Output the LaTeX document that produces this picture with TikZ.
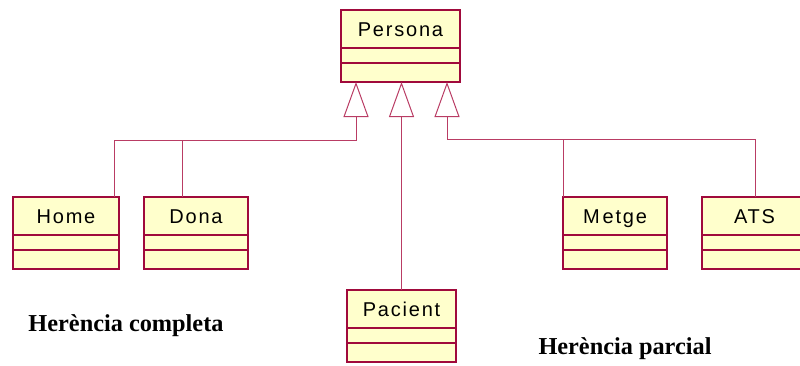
\documentclass[tikz,border=0pt]{standalone}
\usepackage{fontspec}
\setmainfont{Liberation Serif}
\newfontfamily\umlfont{Liberation Sans}[LetterSpace=9]
\usetikzlibrary{arrows.meta,positioning,calc}
\definecolor{umlborder}{RGB}{160,10,60}
\definecolor{umlline}{RGB}{185,60,100}
\definecolor{umlfill}{RGB}{255,255,204}

% one class: title part, attributes, operations
\newcommand{\umlclass}[5]{%
    \node[classtitle, minimum width=#4, anchor=north west] (#1) at (#2,#3) {#5};
    \node[classpart, minimum width=#4, minimum height=15pt, below=0pt of #1] (#1-a) {};
    \node[classpart, minimum width=#4, minimum height=19pt, below=0pt of #1-a] (#1-o) {};
}

\begin{document}
\begin{tikzpicture}[x=1pt, y=-1pt,
    classtitle/.style={draw=umlborder, fill=umlfill, line width=1.3pt, outer sep=0pt,
        minimum height=38pt, inner sep=0pt, text height=15.5pt, text depth=0.5pt,
        font=\umlfont\fontsize{20}{24}\selectfont},
    classpart/.style={draw=umlborder, fill=umlfill, line width=1.3pt, outer sep=0pt,
        inner sep=0pt},
    gen/.style={draw=umlline, line width=1pt,
        -{Triangle[open, length=35pt, width=25pt]}},
    link/.style={draw=umlline, line width=1pt},
    caption/.style={font=\bfseries\fontsize{24.3}{28}\selectfont}]
    \useasboundingbox (0,0) rectangle (800,365);

    % Classes
    \umlclass{persona}{341}{10}{119pt}{Persona}
    \umlclass{home}{13}{197}{106pt}{Home}
    \umlclass{dona}{144}{197}{104pt}{Dona}
    \umlclass{pacient}{347}{290}{109pt}{Pacient}
    \umlclass{metge}{563}{197}{104pt}{M\kern3pt etge}
    \umlclass{ats}{702}{197}{105pt}{ATS}

    % Arrow ends under Persona
    \coordinate (tl) at ($(persona-o.south)+(-44.5,0)$);
    \coordinate (tm) at (persona-o.south -| pacient.north);
    \coordinate (tr) at ($(persona-o.south)+(46.5,0)$);

    % Complete inheritance
    \coordinate (hc) at ($(home.north west)+(101,0)$);
    \coordinate (dc) at ($(dona.north west)+(38,0)$);
    \coordinate (jl) at ($(tl |- dc)+(0,-57)$);
    \draw[gen] (hc) |- (jl) -- (tl);
    \draw[link] (dc) -- (dc |- jl);

    % Pacient
    \draw[gen] (pacient.north) -- (tm);

    % Partial inheritance
    \coordinate (mc) at (metge.north west);
    \coordinate (ac) at ($(ats.north west)+(53,0)$);
    \coordinate (jr) at ($(tr |- mc)+(0,-58)$);
    \draw[gen] (ac) |- (jr) -- (tr);
    \draw[link] (mc) -- (mc |- jr);

    % Captions
    \node[caption] (complet) at (126,326) {Herència completa};
    \node[caption] (parcial) at (625,349) {Herència parcial};
\end{tikzpicture}
\end{document}
